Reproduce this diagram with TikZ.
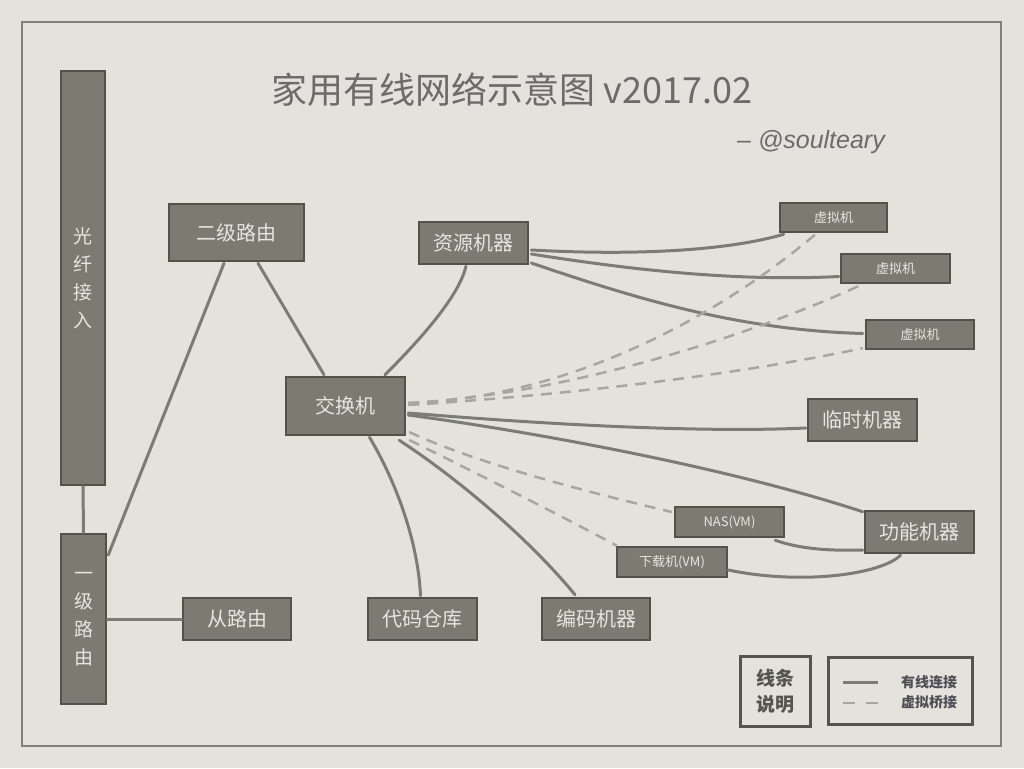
\documentclass[tikz,border=0pt]{standalone}
\usepackage{fontspec}
\setmainfont{Noto Sans CJK SC}
\newfontfamily\latinit{Liberation Sans}
\usetikzlibrary{calc}
\definecolor{bg}{HTML}{E3E2DC}
\definecolor{framec}{HTML}{7F7F7C}
\definecolor{boxfill}{HTML}{7C7B71}
\definecolor{boxline}{HTML}{52514C}
\definecolor{boxtext}{HTML}{E6E6DE}
\definecolor{wirec}{HTML}{7C7C77}
\definecolor{dashc}{HTML}{A7A7A2}
\definecolor{titlec}{HTML}{6B6B6A}
\definecolor{legc}{HTML}{55554F}
\definecolor{legtxt}{HTML}{4E4E55}
\tikzset{
  box/.style={draw=boxline, line width=2.5pt, fill=boxfill, text=boxtext, inner sep=0pt,
    font=\fontsize{20}{24}\selectfont},
  sbox/.style={box, font=\fontsize{13}{15}\selectfont},
  vbox/.style={box, align=center, font=\fontsize{19}{28}\selectfont},
  legbox/.style={draw=legc, line width=3pt, inner sep=0pt},
  legtext/.style={text=legtxt, font=\fontsize{14}{16}\selectfont\bfseries, inner sep=0pt},
  wire/.style={draw=wirec, line width=3pt, line cap=round},
  vwire/.style={draw=dashc, line width=2.5pt, dash pattern=on 11pt off 8pt},
}
\begin{document}
\begin{tikzpicture}[x=1pt,y=-1pt]
\useasboundingbox (0,0) rectangle (1024,768);
\fill[bg] (0,0) rectangle (1024,768);
\draw[framec, line width=2pt] (22,22) rectangle (1001,746);

% title
\node[text=titlec, font=\fontsize{36}{40}\selectfont, inner sep=0pt] (title) at (512,90) {家用有线网络示意图 v2017.02};
\node[text=titlec, font=\latinit\itshape\fontsize{25}{28}\selectfont, inner sep=0pt] (author) at (811,142) {– @soulteary};

% nodes
\node[vbox, minimum width=44pt, minimum height=414pt] (fiber) at (83,278) {光\\纤\\接\\入};
\node[vbox, minimum width=45pt, minimum height=170pt] (r1) at (83.5,619) {一\\级\\路\\由};
\node[box, minimum width=135pt, minimum height=57pt] (r2) at (236.5,232.5) {二级路由};
\node[box, minimum width=109pt, minimum height=42pt] (res) at (473.5,243) {资源机器};
\node[box, minimum width=119pt, minimum height=58pt] (sw) at (345.5,406) {交换机};
\node[sbox, minimum width=107pt, minimum height=29pt] (vm1) at (833.5,217.5) {虚拟机};
\node[sbox, minimum width=109pt, minimum height=29pt] (vm2) at (895.5,268.5) {虚拟机};
\node[sbox, minimum width=108pt, minimum height=29pt] (vm3) at (920,334.5) {虚拟机};
\node[box, minimum width=109pt, minimum height=42pt] (tmp) at (862.5,420) {临时机器};
\node[box, minimum width=109pt, minimum height=42pt] (func) at (919.5,532) {功能机器};
\node[sbox, minimum width=109pt, minimum height=30pt] (nas) at (729.5,522) {NAS(VM)};
\node[sbox, minimum width=110pt, minimum height=30pt] (dl) at (672,562) {下载机(VM)};
\node[box, minimum width=108pt, minimum height=42pt] (sub) at (237,619) {从路由};
\node[box, minimum width=109pt, minimum height=42pt] (code) at (422.5,619) {代码仓库};
\node[box, minimum width=108pt, minimum height=42pt] (enc) at (596,619) {编码机器};

% legend
\node[legbox, minimum width=70pt, minimum height=70pt, align=center, text=legc,
  font=\fontsize{19}{26}\selectfont\bfseries] (legT) at (775,691) {线条\\说明};
\node[legbox, minimum width=144pt, minimum height=67pt] (legB) at (900,691) {};
\coordinate (ls1a) at (843,682);
\coordinate (ls1b) at (878,682);
\coordinate (ls2a) at (843,703);
\coordinate (ls2b) at (878,703);
\draw[wire, line cap=butt] (ls1a) -- (ls1b);
\draw[vwire, dash pattern=on 12pt off 11pt] (ls2a) -- (ls2b);
\node[legtext] (lt1) at (929,682) {有线连接};
\node[legtext] (lt2) at (929,702) {虚拟桥接};

% wired connections
\draw[wire] (fiber.south) -- (r1.north);
\draw[wire] ($(r1.east)+(1,-64)$) -- ($(r2.south)+(-12.5,1)$);
\draw[wire] (r1.east) -- (sub.west);
\draw[wire] ($(r2.south)+(21.5,1)$) -- ($(sw.north)+(-21.5,-1)$);
\draw[wire] ($(sw.north)+(39.5,-1)$) .. controls (430,330) and (460,292) .. ($(res.south)+(-7.5,1)$);
\draw[wire] ($(res.east)+(2,7)$) .. controls (640,256) and (730,250) .. ($(vm1.south west)+(5,1)$);
\draw[wire] ($(res.east)+(2,11)$) .. controls (620,268) and (730,282) .. ($(vm2.west)+(-1,8)$);
\draw[wire] ($(res.east)+(2,20)$) .. controls (640,300) and (740,330) .. ($(vm3.west)+(-2,-1)$);
\draw[wire] ($(sw.east)+(2,7)$) .. controls (540,424) and (700,433) .. ($(tmp.west)+(-1,8)$);
\draw[wire] ($(sw.east)+(2,9)$) .. controls (520,430) and (720,465) .. ($(func.north west)+(-1,2)$);
\draw[wire] ($(sw.south east)+(-7,4)$) .. controls (460,480) and (530,540) .. ($(enc.north)+(-21,-2)$);
\draw[wire] ($(sw.south)+(24,1)$) .. controls (395,480) and (418,540) .. ($(code.north)+(-2,-1)$);
\draw[wire] ($(nas.south east)+(-10,2)$) .. controls (800,549) and (830,551) .. ($(func.west)+(-1,18)$);
\draw[wire] ($(dl.east)+(0,8)$) .. controls (800,585) and (880,575) .. ($(func.south)+(-19,1)$);

% virtual bridges
\draw[vwire] ($(sw.east)+(2,-3)$) .. controls (570,398) and (720,315) .. ($(vm1.south)+(-18,1)$);
\draw[vwire] ($(sw.east)+(2,-3)$) .. controls (560,395) and (740,340) .. ($(vm2.south)+(-35,1)$);
\draw[vwire] ($(sw.east)+(2,-1)$) .. controls (550,396) and (720,378) .. ($(vm3.south west)+(-2,-2)$);
\draw[vwire] ($(sw.east)+(3,26)$) .. controls (480,465) and (600,495) .. ($(nas.west)+(-2,-10)$);
\draw[vwire] ($(sw.east)+(3,34)$) .. controls (470,470) and (560,515) .. ($(dl.north west)+(1,0)$);
\end{tikzpicture}
\end{document}
